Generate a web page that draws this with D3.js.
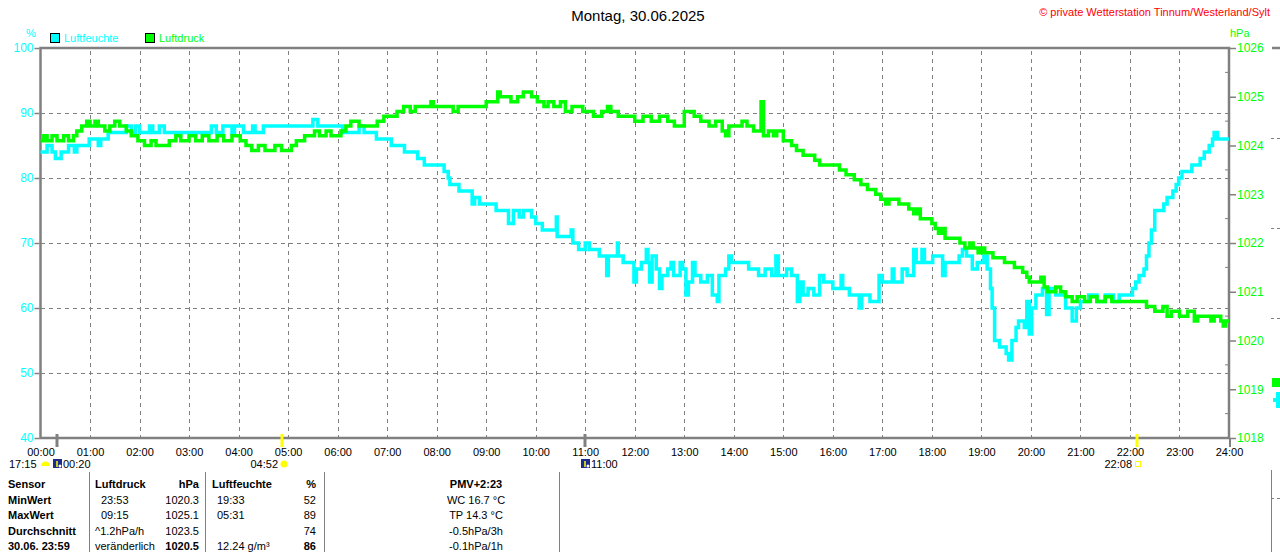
<!DOCTYPE html>
<html>
<head>
<meta charset="utf-8">
<script src="https://cdn.jsdelivr.net/npm/d3@7"></script>
<style>
  body { margin: 0; background: #fff; }
  svg { display: block; font-family: "Liberation Sans", Arial, sans-serif; }
</style>
</head>
<body>
<svg id="chart" width="1280" height="552"></svg>
<script>
// humidity in %, [time, value]
const humidity = [
  ["00:00",84],["00:08",85],["00:14",84],["00:18",83],["00:25",84],["00:34",85],["00:41",84],["00:44",85],
  ["00:59",86],["01:10",85],["01:13",86],["01:22",87],["01:44",88],["01:50",87],["01:55",88],["02:00",87],
  ["02:12",88],["02:16",87],["02:24",88],["02:30",87],["03:27",88],["03:33",87],["03:41",88],["03:52",87],
  ["03:55",88],["04:06",87],["04:17",88],["04:20",87],["04:30",88],["05:30",89],["05:36",88],["06:06",87],
  ["06:26",88],["06:32",87],["06:47",86],["07:05",85],["07:21",84],["07:37",83],["07:45",82],["08:09",81],
  ["08:14",80],["08:16",79],["08:27",78],["08:43",76],["08:46",77],["08:52",76],["09:12",75],["09:27",73],
  ["09:33",75],["09:40",74],["09:45",75],["09:55",74],["10:00",73],["10:08",72],["10:25",74],["10:26",71],
  ["10:43",72],["10:45",70],["10:52",69],["11:00",70],["11:05",69],["11:17",68],["11:26",65],["11:28",68],
  ["11:39",70],["11:40",68],["11:46",67],["11:59",64],["12:02",66],["12:08",67],["12:14",69],["12:16",67],
  ["12:18",64],["12:21",68],["12:26",66],["12:30",63],["12:33",65],["12:40",66],["12:44",67],["12:47",65],
  ["12:55",67],["12:58",66],["13:02",62],["13:05",64],["13:10",67],["13:13",65],["13:20",64],["13:28",65],
  ["13:34",62],["13:40",61],["13:42",65],["13:50",66],["13:54",68],["13:57",67],["14:18",66],["14:30",65],
  ["14:38",66],["14:46",65],["14:51",68],["14:54",65],["15:04",66],["15:10",65],["15:17",61],["15:20",64],
  ["15:24",62],["15:30",63],["15:37",62],["15:44",65],["15:49",64],["16:00",63],["16:10",65],["16:12",63],
  ["16:20",62],["16:32",60],["16:35",62],["16:45",61],["16:56",65],["17:00",64],["17:12",66],["17:14",64],
  ["17:24",66],["17:30",65],["17:38",69],["17:41",67],["17:48",69],["17:51",67],["18:01",68],["18:13",65],
  ["18:16",67],["18:33",68],["18:37",69],["18:42",68],["18:49",66],["18:55",67],["19:03",68],["19:07",66],
  ["19:11",63],["19:13",60],["19:16",55],["19:22",54],["19:30",53],["19:33",52],["19:37",55],["19:42",57],
  ["19:45",58],["19:52",57],["19:55",61],["19:58",56],["20:01",60],["20:06",62],["20:14",63],["20:19",59],
  ["20:22",63],["20:30",62],["20:42",60],["20:50",58],["20:55",60],["21:00",61],["21:10",62],["21:20",61],
  ["21:30",62],["21:40",61],["21:47",62],["22:03",63],["22:07",64],["22:11",65],["22:17",66],["22:20",68],
  ["22:23",70],["22:26",72],["22:30",75],["22:41",76],["22:45",77],["22:52",78],["22:56",79],["22:59",80],
  ["23:03",81],["23:15",82],["23:25",83],["23:30",84],["23:36",85],["23:40",86],["23:42",87],["23:46",86]
];

// air pressure in hPa, [time, value]
const pressure = [
  ["00:00",1024.1],["00:04",1024.2],["00:08",1024.1],["00:14",1024.2],["00:20",1024.1],["00:28",1024.2],
  ["00:34",1024.1],["00:40",1024.2],["00:44",1024.3],["00:50",1024.4],["00:56",1024.5],["01:00",1024.4],
  ["01:06",1024.5],["01:10",1024.4],["01:18",1024.3],["01:24",1024.4],["01:30",1024.5],["01:36",1024.4],
  ["01:44",1024.3],["01:50",1024.2],["01:58",1024.1],["02:06",1024.0],["02:14",1024.1],["02:20",1024.0],
  ["02:36",1024.1],["02:44",1024.2],["02:50",1024.1],["03:00",1024.2],["03:08",1024.1],["03:16",1024.2],
  ["03:24",1024.1],["03:34",1024.2],["03:42",1024.1],["03:52",1024.2],["04:02",1024.1],["04:09",1024.0],
  ["04:16",1023.9],["04:24",1024.0],["04:32",1023.9],["04:44",1024.0],["04:52",1023.9],["05:04",1024.0],
  ["05:10",1024.1],["05:20",1024.2],["05:32",1024.3],["05:38",1024.2],["05:46",1024.3],["05:52",1024.2],
  ["06:04",1024.3],["06:10",1024.4],["06:16",1024.5],["06:26",1024.4],["06:48",1024.5],["06:56",1024.6],
  ["07:12",1024.7],["07:20",1024.8],["07:28",1024.7],["07:34",1024.8],["07:53",1024.9],["07:56",1024.8],
  ["08:20",1024.7],["08:26",1024.8],["08:48",1024.8],["09:00",1024.9],["09:14",1025.1],["09:17",1025.0],
  ["09:30",1024.9],["09:38",1025.0],["09:45",1025.1],["09:55",1025.0],["10:02",1024.9],["10:10",1024.8],
  ["10:15",1024.9],["10:22",1024.8],["10:30",1024.9],["10:36",1024.7],["10:44",1024.8],["10:57",1024.7],
  ["11:10",1024.6],["11:20",1024.7],["11:27",1024.8],["11:31",1024.7],["11:40",1024.6],["12:00",1024.5],
  ["12:10",1024.6],["12:20",1024.5],["12:30",1024.6],["12:40",1024.5],["12:48",1024.4],["13:00",1024.7],
  ["13:12",1024.6],["13:20",1024.5],["13:30",1024.4],["13:38",1024.5],["13:46",1024.3],["13:50",1024.2],
  ["13:54",1024.4],["14:10",1024.5],["14:16",1024.4],["14:24",1024.3],["14:33",1024.9],["14:36",1024.2],
  ["14:42",1024.3],["14:48",1024.2],["14:52",1024.3],["15:00",1024.1],["15:10",1024.0],["15:16",1023.9],
  ["15:24",1023.8],["15:38",1023.7],["15:44",1023.6],["16:08",1023.5],["16:16",1023.4],["16:26",1023.3],
  ["16:34",1023.2],["16:42",1023.1],["16:52",1023.0],["16:58",1022.9],["17:04",1022.8],["17:08",1022.9],
  ["17:20",1022.8],["17:32",1022.7],["17:38",1022.6],["17:42",1022.7],["17:46",1022.5],["18:00",1022.4],
  ["18:04",1022.3],["18:08",1022.2],["18:12",1022.3],["18:16",1022.1],["18:34",1022.0],["18:40",1021.9],
  ["18:46",1022.0],["18:50",1021.9],["18:56",1021.8],["19:00",1021.9],["19:04",1021.8],["19:14",1021.7],
  ["19:28",1021.6],["19:40",1021.5],["19:50",1021.4],["19:55",1021.3],["19:58",1021.2],["20:12",1021.3],
  ["20:16",1021.1],["20:20",1021.0],["20:30",1021.1],["20:36",1021.0],["20:42",1020.9],["20:50",1020.8],
  ["20:56",1020.9],["21:05",1020.8],["21:12",1020.9],["21:20",1020.8],["21:30",1020.9],["21:38",1020.8],
  ["22:20",1020.7],["22:30",1020.6],["22:40",1020.7],["22:45",1020.5],["22:50",1020.6],["23:00",1020.5],
  ["23:10",1020.6],["23:18",1020.4],["23:22",1020.5],["23:38",1020.4],["23:42",1020.5],["23:50",1020.4],
  ["23:53",1020.3],["23:56",1020.4]
];

const hourTicks = d3.range(0, 25);
const humTicks = [40, 50, 60, 70, 80, 90, 100];
const pressTicks = [1018, 1019, 1020, 1021, 1022, 1023, 1024, 1025, 1026];

// sun / moon events under the axis
const events = [
  { time: "00:20", kind: "moon", label: "00:20" },
  { time: "04:52", kind: "sunrise", label: "04:52" },
  { time: "11:00", kind: "moon", label: "11:00" },
  { time: "22:08", kind: "sunset", label: "22:08" }
];
const prevSunset = "17:15";

// summary table
const colSensor = ["Sensor", "MinWert", "MaxWert", "Durchschnitt", "30.06. 23:59"];
const colPressInfo = ["Luftdruck", "23:53", "09:15", "^1.2hPa/h", "veränderlich"];
const colPressVal = ["hPa", "1020.3", "1025.1", "1023.5", "1020.5"];
const colHumInfo = ["Luftfeuchte", "19:33", "05:31", "", "12.24 g/m³"];
const colHumVal = ["%", "52", "89", "74", "86"];
const colExtra = ["PMV+2:23", "WC 16.7 °C", "TP 14.3 °C", "-0.5hPa/3h", "-0.1hPa/1h"];

const CYAN = "#00ffff", GREEN = "#00ff00", GRAY = "#808080";

const toMin = t => { const [h, m] = t.split(":").map(Number); return h * 60 + m; };

const svg = d3.select("#chart");
const pLeft = 40.5, pRight = 1229, pTop = 48, pBottom = 438;

const x = d3.scaleLinear().domain([0, 1440]).range([pLeft, pRight]);
const yH = d3.scaleLinear().domain([40, 100]).range([pBottom, pTop]);
const yP = d3.scaleLinear().domain([1018, 1026]).range([pBottom, pTop]);

// grid
const grid = svg.append("g").attr("stroke", GRAY).attr("stroke-width", 1)
    .attr("stroke-dasharray", "4,4").attr("shape-rendering", "crispEdges");
grid.selectAll(".v").data(hourTicks.slice(1, -1)).enter().append("line")
    .attr("x1", d => Math.round(x(d * 60)) + 0.5).attr("x2", d => Math.round(x(d * 60)) + 0.5)
    .attr("y1", pTop + 3).attr("y2", pBottom);
grid.selectAll(".h").data(humTicks.slice(1, -1)).enter().append("line")
    .attr("x1", pLeft).attr("x2", pRight)
    .attr("y1", d => Math.round(yH(d)) + 0.5).attr("y2", d => Math.round(yH(d)) + 0.5);

// frame
const frame = svg.append("g").attr("stroke", GRAY).attr("stroke-width", 2.5).attr("fill", "none");
frame.append("path").attr("d", `M${pLeft},${pBottom}V${pTop}H${pRight}V${pBottom}Z`);
frame.append("line").attr("x1", 1272).attr("x2", 1280).attr("y1", pTop).attr("y2", pTop);

// left axis (humidity)
const axL = svg.append("g").attr("transform", `translate(${pLeft - 1},0)`)
    .call(d3.axisLeft(yH).tickValues(humTicks).tickSize(5).tickPadding(1));
axL.select(".domain").remove();
axL.selectAll("line").attr("stroke", GRAY).attr("stroke-width", 1.5);
axL.selectAll("text").attr("fill", CYAN).attr("font-size", 12).attr("font-family", null);

// right axis (pressure)
const axR = svg.append("g").attr("transform", `translate(${pRight + 1},0)`)
    .call(d3.axisRight(yP).tickValues(pressTicks).tickSize(6).tickPadding(1).tickFormat(d3.format("d")));
axR.select(".domain").remove();
axR.selectAll("line").attr("stroke", GRAY).attr("stroke-width", 1.5);
axR.selectAll("text").attr("fill", GREEN).attr("font-size", 12).attr("font-family", null);
svg.append("g").selectAll("line").data(pressTicks.slice(0, -1)).enter().append("line")
    .attr("x1", pRight - 4).attr("x2", pRight).attr("y1", d => yP(d + 0.5)).attr("y2", d => yP(d + 0.5))
    .attr("stroke", GRAY).attr("stroke-width", 1);

// bottom axis (hours)
const axB = svg.append("g").attr("transform", `translate(0,${pBottom})`)
    .call(d3.axisBottom(x).tickValues(hourTicks.map(h => h * 60)).tickSize(0).tickPadding(10)
      .tickFormat(m => String(m / 60).padStart(2, "0") + ":00"));
axB.select(".domain").remove();
axB.selectAll("text").attr("fill", "#000").attr("font-size", 11).attr("font-family", null);
svg.append("line").attr("x1", pRight + 1).attr("x2", pRight + 1).attr("y1", pBottom).attr("y2", pBottom + 9)
    .attr("stroke", GRAY).attr("stroke-width", 2);

// unit labels and legend
svg.append("text").attr("x", 26).attr("y", 37).attr("fill", CYAN).attr("font-size", 11).text("%");
svg.append("text").attr("x", 1230).attr("y", 37).attr("fill", GREEN).attr("font-size", 11).text("hPa");
const legend = [["Luftfeuchte", CYAN, 50], ["Luftdruck", GREEN, 145]];
legend.forEach(([name, color, lx]) => {
  svg.append("rect").attr("x", lx + 0.5).attr("y", 33.5).attr("width", 9).attr("height", 9)
      .attr("fill", color).attr("stroke", "#000").attr("stroke-width", 1);
  svg.append("text").attr("x", lx + 14).attr("y", 42).attr("fill", color).attr("font-size", 11).text(name);
});

// title
svg.append("text").attr("x", 638).attr("y", 21).attr("text-anchor", "middle")
    .attr("font-size", 15).attr("fill", "#000").text("Montag, 30.06.2025");
svg.append("text").attr("x", 1270).attr("y", 16).attr("text-anchor", "end")
    .attr("font-size", 11).attr("fill", "#ff0000").text("© private Wetterstation Tinnum/Westerland/Sylt");

// lines
const line = (yScale) => d3.line().curve(d3.curveStepAfter)
    .x(d => x(d[0])).y(d => yScale(d[1]));
const prep = arr => {
  const pts = arr.map(([t, v]) => [toMin(t), v]);
  pts.push([1440, pts[pts.length - 1][1]]);
  return pts;
};
svg.append("path").datum(prep(humidity)).attr("d", line(yH))
    .attr("fill", "none").attr("stroke", CYAN).attr("stroke-width", 3.5).attr("stroke-linejoin", "miter");
svg.append("path").datum(prep(pressure)).attr("d", line(yP))
    .attr("fill", "none").attr("stroke", GREEN).attr("stroke-width", 3.5).attr("stroke-linejoin", "miter");

// sun / moon markers
const mk = svg.append("g");
mk.append("text").attr("x", 9).attr("y", 468).attr("font-size", 11).text(prevSunset);
mk.append("path").attr("d", "M41,466 A4.5,4.5 0 0 1 50,466 Z").attr("fill", "#ffff00");
events.forEach(e => {
  const ex = Math.round(x(toMin(e.time)));
  mk.append("line").attr("x1", ex).attr("x2", ex).attr("y1", pBottom - 4).attr("y2", pBottom + 9)
      .attr("stroke", e.kind === "moon" ? GRAY : "#ffff00").attr("stroke-width", 3);
  if (e.kind === "moon") {
    mk.append("rect").attr("x", ex - 4).attr("y", 459).attr("width", 9).attr("height", 9).attr("fill", "#1c2c8c");
    mk.append("line").attr("x1", ex).attr("x2", ex).attr("y1", 461).attr("y2", 467)
        .attr("stroke", "#ffff00").attr("stroke-width", 1.5);
    mk.append("circle").attr("cx", ex + 3).attr("cy", 466).attr("r", 1.5).attr("fill", "#fff");
    mk.append("text").attr("x", ex + 6).attr("y", 468).attr("font-size", 11).text(e.label);
  } else if (e.kind === "sunrise") {
    mk.append("circle").attr("cx", ex + 2).attr("cy", 464).attr("r", 3.5).attr("fill", "#ffff00");
    mk.append("text").attr("x", ex - 4).attr("y", 468).attr("text-anchor", "end").attr("font-size", 11).text(e.label);
  } else {
    mk.append("rect").attr("x", ex - 1.5).attr("y", 461.5).attr("width", 5).attr("height", 5)
        .attr("fill", "none").attr("stroke", "#ffff00").attr("stroke-width", 1);
    mk.append("text").attr("x", ex - 5).attr("y", 468).attr("text-anchor", "end").attr("font-size", 11).text(e.label);
  }
});

// summary table
const tbl = svg.append("g").attr("font-size", 11).attr("fill", "#000");
[89, 205, 324, 559].forEach(sx => {
  tbl.append("line").attr("x1", sx + 0.5).attr("x2", sx + 0.5).attr("y1", 472).attr("y2", 552)
      .attr("stroke", GRAY).attr("stroke-width", 1);
});
const rowY = i => 488 + i * 15.5;
const cols = [
  { data: colSensor, x: 8, anchor: "start", bold: () => true },
  { data: colPressInfo, x: i => (i === 1 || i === 2) ? 101 : 95, anchor: "start", bold: i => i === 0 },
  { data: colPressVal, x: 199, anchor: "end", bold: i => i === 0 || i === 4 },
  { data: colHumInfo, x: i => i === 0 ? 212 : 217, anchor: "start", bold: i => i === 0 },
  { data: colHumVal, x: 316, anchor: "end", bold: i => i === 0 || i === 4 },
  { data: colExtra, x: 476, anchor: "middle", bold: i => i === 0 }
];
cols.forEach(c => {
  c.data.forEach((t, i) => {
    tbl.append("text").attr("x", typeof c.x === "function" ? c.x(i) : c.x).attr("y", rowY(i))
        .attr("text-anchor", c.anchor).attr("font-weight", c.bold(i) ? "bold" : "normal").text(t);
  });
});

// fragments of the neighbouring chart at the right edge
const frag = svg.append("g");
[138, 228, 318, 498].forEach(fy => {
  frag.append("line").attr("x1", 1271).attr("x2", 1280).attr("y1", fy + 0.5).attr("y2", fy + 0.5)
      .attr("stroke", GRAY).attr("stroke-dasharray", "3,3");
});
frag.append("line").attr("x1", 1271.5).attr("x2", 1271.5).attr("y1", 470).attr("y2", 552).attr("stroke", GRAY);
frag.append("rect").attr("x", 1272).attr("y", 378).attr("width", 8).attr("height", 9).attr("fill", GREEN);
frag.append("path").attr("d", "M1273,398 L1276,398 L1276,392 L1280,392 L1280,408 L1276,408 L1276,402 L1273,402 Z").attr("fill", CYAN);
</script>
</body>
</html>
